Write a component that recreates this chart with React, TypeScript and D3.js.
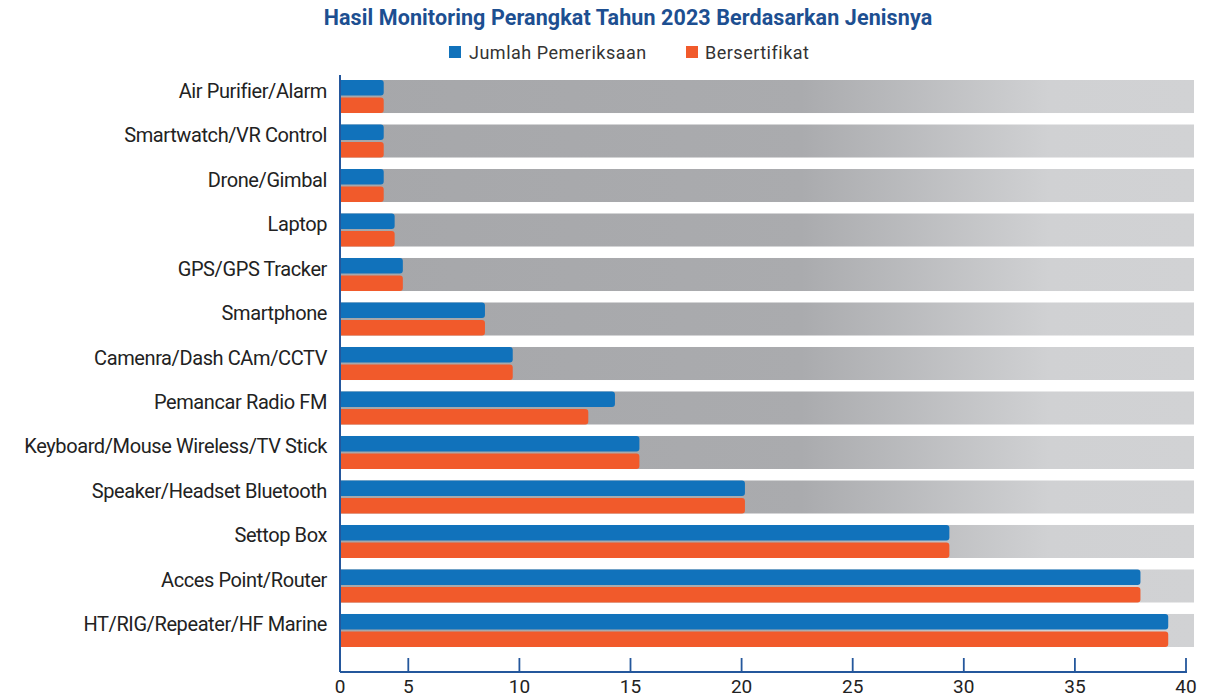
import * as d3 from "d3";

const categories = [
  "Air Purifier/Alarm",
  "Smartwatch/VR Control",
  "Drone/Gimbal",
  "Laptop",
  "GPS/GPS Tracker",
  "Smartphone",
  "Camenra/Dash CAm/CCTV",
  "Pemancar Radio FM",
  "Keyboard/Mouse Wireless/TV Stick",
  "Speaker/Headset Bluetooth",
  "Settop Box",
  "Acces Point/Router",
  "HT/RIG/Repeater/HF Marine",
];
const jumlahPemeriksaan = [3.2, 3.2, 3.2, 4, 4.6, 8.45, 9.7, 14.3, 15.4, 20.15, 29.35, 37.95, 39.2];
const bersertifikat = [3.2, 3.2, 3.2, 4, 4.6, 8.45, 9.7, 13.1, 15.4, 20.15, 29.35, 37.95, 39.2];
const tickValues = [0, 5, 10, 15, 20, 25, 30, 35, 40];
const seriesNames = ["Jumlah Pemeriksaan", "Bersertifikat"];

const BLUE = "#1172bb";
const ORANGE = "#f15a2b";
const AXIS = "#24579c";

const App = () => {
  const W = 1232;
  const H = 699;
  const x0 = 340;
  // axis in the source is broken between 0 and 5
  const x = d3.scaleLinear().domain([0, 5, 40]).range([x0, 408.3, 1186]);
  const y = d3
    .scaleBand<string>()
    .domain(categories)
    .range([80, 80 + 13 * 44.5 - 11.5])
    .paddingInner(0.258)
    .paddingOuter(0);
  const bh = y.bandwidth();
  const barH = (bh - 2) / 2;
  const axisY = 672;

  // rounded right end only
  const barPath = (x1: number, yTop: number, w: number, h: number, r = 3) => {
    const p = d3.path();
    p.moveTo(x1, yTop);
    p.lineTo(x1 + w - r, yTop);
    p.arcTo(x1 + w, yTop, x1 + w, yTop + r, r);
    p.lineTo(x1 + w, yTop + h - r);
    p.arcTo(x1 + w, yTop + h, x1 + w - r, yTop + h, r);
    p.lineTo(x1, yTop + h);
    p.closePath();
    return p.toString();
  };

  return (
    <svg
      width={W}
      height={H}
      style={{ position: "absolute", left: 0, top: 0, background: "#fff" }}
      fontFamily="Roboto, 'Open Sans', sans-serif"
    >
      <defs>
        <linearGradient id="bandGrad" x1="0" x2="1" y1="0" y2="0">
          <stop offset="0" stopColor="#a6a7aa" />
          <stop offset="0.54" stopColor="#aaabae" />
          <stop offset="0.83" stopColor="#d0d1d3" />
          <stop offset="1" stopColor="#d1d2d4" />
        </linearGradient>
      </defs>

      <text
        x={628}
        y={25}
        textAnchor="middle"
        fontSize={21.5}
        fontWeight="bold"
        fill="#1d4f91"
        letterSpacing={0.1}
      >
        Hasil Monitoring Perangkat Tahun 2023 Berdasarkan Jenisnya
      </text>

      {/* legend */}
      <g fontSize={18} fill="#333">
        <rect x={449} y={46} width={12} height={12} fill={BLUE} />
        <text x={469} y={59} letterSpacing={0.5}>{seriesNames[0]}</text>
        <rect x={686} y={46} width={12} height={12} fill={ORANGE} />
        <text x={705} y={59} letterSpacing={0.5}>{seriesNames[1]}</text>
      </g>

      {categories.map((c, i) => {
        const yt = y(c) as number;
        return (
          <g key={c}>
            <rect x={x0 + 1} y={yt} width={1194 - x0 - 1} height={bh} fill="url(#bandGrad)" />
            <path d={barPath(x0 + 1, yt, x(jumlahPemeriksaan[i]) - x0 - 1, barH)} fill={BLUE} />
            <path d={barPath(x0 + 1, yt + barH + 2, x(bersertifikat[i]) - x0 - 1, barH)} fill={ORANGE} />
            <text
              x={327}
              y={yt + bh / 2 - 6}
              textAnchor="end"
              dominantBaseline="central"
              fontSize={20}
              fill="#222"
              letterSpacing={-0.4}
            >
              {c}
            </text>
          </g>
        );
      })}

      {/* axes */}
      <line x1={x0} x2={x0} y1={75} y2={axisY} stroke={AXIS} strokeWidth={2} />
      <line x1={x0} x2={x(40) + 1} y1={axisY} y2={axisY} stroke={AXIS} strokeWidth={2} />
      {tickValues.map((t) => (
        <g key={t}>
          {t > 0 && <line x1={x(t)} x2={x(t)} y1={658} y2={axisY} stroke={AXIS} strokeWidth={1.8} />}
          <text x={x(t)} y={693} textAnchor="middle" fontSize={19} fill="#222">
            {t}
          </text>
        </g>
      ))}
    </svg>
  );
};

export default App;
